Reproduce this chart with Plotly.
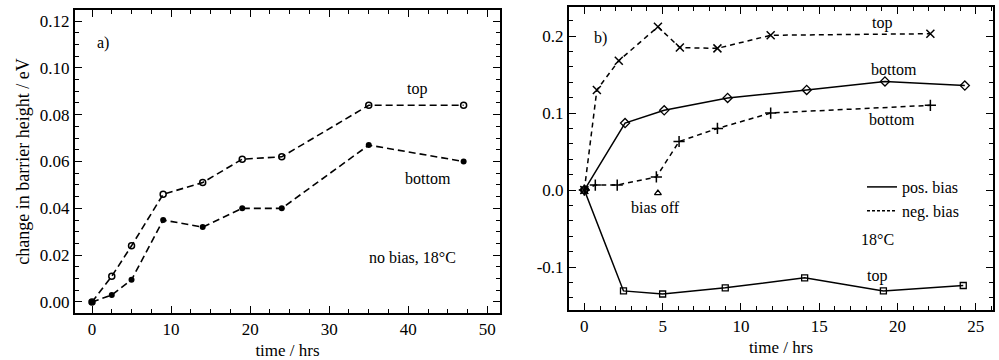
import plotly.graph_objects as go

W, H = 999, 360
FONT = "Liberation Serif"

# ---- panel a) data ----
a_time = [0, 2.5, 5, 9, 14, 19, 24, 35, 47]
a_top = [0.0, 0.011, 0.024, 0.046, 0.051, 0.061, 0.062, 0.084, 0.084]
a_bottom = [0.0, 0.003, 0.0095, 0.035, 0.032, 0.040, 0.040, 0.067, 0.060]

# ---- panel b) data ----
b_neg_top_t = [0, 0.8, 2.2, 4.7, 6.1, 8.5, 11.9, 22.1]
b_neg_top = [0.0, 0.13, 0.168, 0.212, 0.185, 0.184, 0.201, 0.203]
b_neg_bot_t = [0, 0.7, 2.1, 4.6, 6.05, 8.5, 11.9, 22.1]
b_neg_bot = [0.0, 0.0065, 0.0065, 0.017, 0.063, 0.080, 0.100, 0.110]
b_pos_bot_t = [0, 2.6, 5.1, 9.15, 14.2, 19.2, 24.3]
b_pos_bot = [0.0, 0.087, 0.1035, 0.1196, 0.130, 0.141, 0.1357]
b_pos_top_t = [0, 2.5, 5.0, 9.0, 14.07, 19.1, 24.2]
b_pos_top = [0.0, -0.131, -0.135, -0.127, -0.114, -0.131, -0.124]
bias_off_t = [4.7]
bias_off_v = [-0.004]

a_xticks = [0, 10, 20, 30, 40, 50]
a_yticks = [0.0, 0.02, 0.04, 0.06, 0.08, 0.10, 0.12]
b_xticks = [0, 5, 10, 15, 20, 25]
b_yticks = [-0.1, 0.0, 0.1, 0.2]

fig = go.Figure()
blk = "black"

fig.add_trace(go.Scatter(x=a_time, y=a_top, mode="lines+markers", xaxis="x", yaxis="y",
                         line=dict(color=blk, width=1.6, dash="7px,4px"),
                         marker=dict(symbol="circle-open", size=6, color=blk, line=dict(width=1.5)),
                         showlegend=False))
fig.add_trace(go.Scatter(x=a_time, y=a_bottom, mode="lines+markers", xaxis="x", yaxis="y",
                         line=dict(color=blk, width=1.6, dash="7px,4px"),
                         marker=dict(symbol="circle", size=6, color=blk),
                         showlegend=False))

fig.add_trace(go.Scatter(x=b_neg_top_t, y=b_neg_top, mode="lines+markers", xaxis="x2", yaxis="y2",
                         line=dict(color=blk, width=1.5, dash="5px,4px"),
                         marker=dict(symbol="x-thin-open", size=8, color=blk, line=dict(width=1.5, color=blk)),
                         showlegend=False))
fig.add_trace(go.Scatter(x=b_neg_bot_t, y=b_neg_bot, mode="lines+markers", xaxis="x2", yaxis="y2",
                         line=dict(color=blk, width=1.5, dash="5px,4px"),
                         marker=dict(symbol="cross-thin-open", size=8, color=blk, line=dict(width=1.5, color=blk)),
                         showlegend=False))
fig.add_trace(go.Scatter(x=b_pos_bot_t, y=b_pos_bot, mode="lines+markers", xaxis="x2", yaxis="y2",
                         line=dict(color=blk, width=1.5),
                         marker=dict(symbol="diamond-open", size=7, color=blk, line=dict(width=1.3)),
                         showlegend=False))
fig.add_trace(go.Scatter(x=b_pos_top_t, y=b_pos_top, mode="lines+markers", xaxis="x2", yaxis="y2",
                         line=dict(color=blk, width=1.5),
                         marker=dict(symbol="square-open", size=6, color=blk, line=dict(width=1.3)),
                         showlegend=False))
fig.add_trace(go.Scatter(x=bias_off_t, y=bias_off_v, mode="markers", xaxis="x2", yaxis="y2",
                         marker=dict(symbol="triangle-up-open", size=6, color=blk, line=dict(width=1.3)),
                         showlegend=False))
# legend entries
fig.add_trace(go.Scatter(x=[None], y=[None], mode="lines", name="pos. bias", xaxis="x2", yaxis="y2",
                         line=dict(color=blk, width=1.5)))
fig.add_trace(go.Scatter(x=[None], y=[None], mode="lines", name="neg. bias", xaxis="x2", yaxis="y2",
                         line=dict(color=blk, width=1.5, dash="3px,2px")))

def px_x(p):
    return p / W

def px_y(p):
    return 1 - p / H

axis_common = dict(showgrid=False, zeroline=False, showline=True, linecolor=blk, linewidth=2,
                   mirror="allticks", ticks="inside", ticklen=7, tickwidth=1.3, tickcolor=blk,
                   tickfont=dict(family=FONT, size=17, color=blk))

fig.update_layout(
    width=W, height=H, margin=dict(l=0, r=0, t=0, b=0),
    paper_bgcolor="white", plot_bgcolor="white",
    font=dict(family=FONT, size=16, color=blk),
    xaxis=dict(domain=[px_x(75), px_x(500)], range=[-2.15, 51.6], tickvals=a_xticks,
               ticktext=[str(v) for v in a_xticks], anchor="y",
               minor=dict(ticks="inside", ticklen=4, dtick=2.5, tick0=0, tickcolor=blk),
               title=dict(text="time / hrs", font=dict(family=FONT, size=17), standoff=6),
               **axis_common),
    yaxis=dict(domain=[px_y(313), px_y(10)], range=[-0.0047, 0.1247], tickvals=a_yticks,
               ticktext=["%.2f" % v for v in a_yticks], anchor="x",
               minor=dict(ticks="inside", ticklen=4, dtick=0.005, tick0=0, tickcolor=blk),
               title=dict(text="change in barrier height / eV", font=dict(family=FONT, size=18), standoff=6),
               **axis_common),
    xaxis2=dict(domain=[px_x(569), px_x(993)], range=[-0.98, 26.1], tickvals=b_xticks,
                ticktext=[str(v) for v in b_xticks], anchor="y2",
                minor=dict(ticks="inside", ticklen=4, dtick=1, tick0=0, tickcolor=blk),
                title=dict(text="time / hrs", font=dict(family=FONT, size=17), standoff=6),
                **axis_common),
    yaxis2=dict(domain=[px_y(310), px_y(7)], range=[-0.1558, 0.2377], tickvals=b_yticks,
                ticktext=["%.1f" % v for v in b_yticks], anchor="x2",
                minor=dict(ticks="inside", ticklen=4, dtick=0.02, tick0=0, tickcolor=blk),
                **axis_common),
    showlegend=True,
    legend=dict(x=px_x(862), y=px_y(170), xanchor="left", yanchor="top",
                bgcolor="rgba(0,0,0,0)", font=dict(family=FONT, size=16, color=blk),
                itemwidth=30, tracegroupgap=0),
)

ann = [
    # panel a
    dict(text="a)", x=px_x(103), y=px_y(43), xref="paper", yref="paper"),
    dict(text="top", x=px_x(417), y=px_y(89), xref="paper", yref="paper"),
    dict(text="bottom", x=px_x(428), y=px_y(178), xref="paper", yref="paper"),
    dict(text="no bias, 18°C", x=px_x(412), y=px_y(257), xref="paper", yref="paper"),
    # panel b
    dict(text="b)", x=px_x(600), y=px_y(38), xref="paper", yref="paper"),
    dict(text="top", x=px_x(882), y=px_y(23), xref="paper", yref="paper"),
    dict(text="bottom", x=px_x(894), y=px_y(70), xref="paper", yref="paper"),
    dict(text="bottom", x=px_x(892), y=px_y(120), xref="paper", yref="paper"),
    dict(text="18°C", x=px_x(877), y=px_y(239), xref="paper", yref="paper"),
    dict(text="top", x=px_x(877), y=px_y(276), xref="paper", yref="paper"),
    dict(text="bias off", x=px_x(655), y=px_y(208), xref="paper", yref="paper"),
]
for a in ann:
    a.update(showarrow=False, xanchor="center", yanchor="middle",
             font=dict(family=FONT, size=16, color=blk))
    fig.add_annotation(**a)

fig.write_html("out.html", config={"displayModeBar": False},
               post_script="document.body.style.margin='0';document.body.style.overflow='hidden';")
